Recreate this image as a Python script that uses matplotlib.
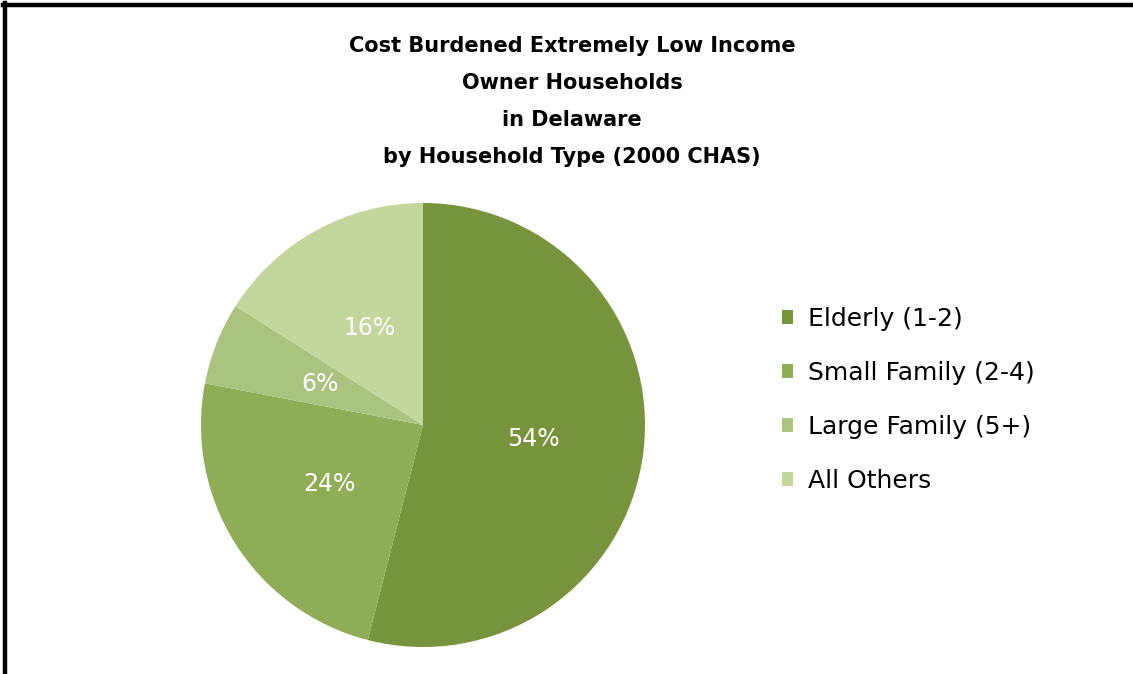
import matplotlib
matplotlib.use("Agg")
import matplotlib.pyplot as plt
from matplotlib.patches import Patch

# household type shares, percent
labels = ["Elderly (1-2)", "Small Family (2-4)", "Large Family (5+)", "All Others"]
shares = [54, 24, 6, 16]
colors = ["#77933C", "#8FAC56", "#AAC37E", "#C3D69B"]

title_lines = ["Cost Burdened Extremely Low Income", "Owner Households",
               "in Delaware", "by Household Type (2000 CHAS)"]

W, H = 1133, 674
fig = plt.figure(figsize=(W / 100, H / 100), dpi=100)
fig.patch.set_facecolor("white")

# frame lines along the top and left edges
fig.add_artist(plt.Line2D([3 / W, 1], [1 - 5 / H, 1 - 5 / H], color="black", lw=3.2))
fig.add_artist(plt.Line2D([5 / W, 5 / W], [0, 1 - 3 / H], color="black", lw=3.2))

for i, line in enumerate(title_lines):
    fig.text(572 / W, 1 - (46 + 37 * i) / H, line, ha="center", va="center",
             fontsize=15, fontweight="bold", family="DejaVu Sans")

ax = fig.add_axes([201 / W, 27 / H, 444 / W, 444 / H])
wedges, _, pct = ax.pie(shares, colors=colors, startangle=90, counterclock=False,
                        autopct="%d%%", pctdistance=0.5,
                        wedgeprops=dict(linewidth=0))
for t in pct:
    t.set_color("white")
    t.set_fontsize(17)
ax.set_xlim(-1, 1)
ax.set_ylim(-1, 1)
ax.set_aspect("equal")
ax.axis("off")

handles = [Patch(facecolor=c, edgecolor="none") for c in colors]
fig.legend(handles, labels, loc="center left", bbox_to_anchor=(759 / W, 1 - 400 / H),
           frameon=False, prop={"family": "DejaVu Sans", "size": 18},
           handlelength=0.45, handleheight=0.45, handletextpad=0.6, labelspacing=1.2)

fig.savefig("out.png", dpi=100, facecolor="white")
